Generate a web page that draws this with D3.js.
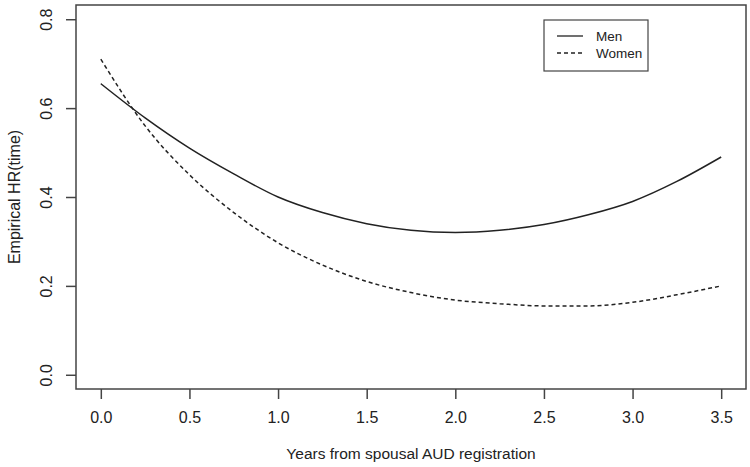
<!DOCTYPE html>
<html>
<head>
<meta charset="utf-8">
<script src="https://cdn.jsdelivr.net/npm/d3@7"></script>
<style>
  body { margin: 0; background: #fff; }
  svg { display: block; font-family: "Liberation Sans", Arial, sans-serif; }
</style>
</head>
<body>
<div id="chart"></div>
<script>
// data
var years = [0, 0.25, 0.5, 0.75, 1.0, 1.25, 1.5, 1.75, 2.0, 2.25, 2.5, 2.75, 3.0, 3.25, 3.5];
var men   = [0.655, 0.578, 0.51, 0.452, 0.40, 0.365, 0.34, 0.325, 0.32, 0.325, 0.338, 0.36, 0.39, 0.435, 0.49];
var women = [0.71, 0.56, 0.45, 0.365, 0.297, 0.247, 0.21, 0.185, 0.168, 0.16, 0.155, 0.155, 0.163, 0.18, 0.20];
var xTicks = [0, 0.5, 1, 1.5, 2, 2.5, 3, 3.5];
var yTicks = [0, 0.2, 0.4, 0.6, 0.8];
var seriesNames = ["Men", "Women"];

var width = 750, height = 467;
var ink = "#222";

var svg = d3.select("#chart")
    .append("svg")
    .attr("width", width)
    .attr("height", height);

// R style: 4% padding around the data range
var x = d3.scaleLinear()
    .domain([-0.14, 3.64])
    .range([76, 746]);
var y = d3.scaleLinear()
    .domain([-0.032, 0.832])
    .range([389, 5]);

// plot box
svg.append("rect")
    .attr("x", x.range()[0])
    .attr("y", y.range()[1])
    .attr("width", x.range()[1] - x.range()[0])
    .attr("height", y.range()[0] - y.range()[1])
    .attr("fill", "none")
    .attr("stroke", "#444")
    .attr("stroke-width", 1.5);

// x axis
var xAxis = svg.append("g")
    .attr("transform", "translate(0," + y.range()[0] + ")")
    .call(d3.axisBottom(x)
        .tickValues(xTicks)
        .tickSize(10)
        .tickFormat(d3.format(".1f")));
xAxis.select(".domain").remove();
xAxis.selectAll("line").attr("stroke", "#444").attr("stroke-width", 1.5);
xAxis.selectAll("text")
    .attr("fill", ink)
    .attr("font-size", 16)
    .attr("dy", null)
    .attr("y", 34);

// y axis, labels rotated like R (las = 0)
var yAxis = svg.append("g")
    .attr("transform", "translate(" + x.range()[0] + ",0)")
    .call(d3.axisLeft(y)
        .tickValues(yTicks)
        .tickSize(10)
        .tickFormat(d3.format(".1f")));
yAxis.select(".domain").remove();
yAxis.selectAll("line").attr("stroke", "#444").attr("stroke-width", 1.5);
yAxis.selectAll("text")
    .attr("fill", ink)
    .attr("font-size", 16)
    .attr("x", null)
    .attr("dy", null)
    .attr("text-anchor", "middle")
    .attr("transform", "translate(-24,0) rotate(-90)");

// axis titles
svg.append("text")
    .attr("x", (x.range()[0] + x.range()[1]) / 2)
    .attr("y", 459)
    .attr("text-anchor", "middle")
    .attr("font-size", 15.5)
    .attr("fill", ink)
    .text("Years from spousal AUD registration");

svg.append("text")
    .attr("transform", "translate(20," + (y.range()[0] + y.range()[1]) / 2 + ") rotate(-90)")
    .attr("text-anchor", "middle")
    .attr("font-size", 16)
    .attr("fill", ink)
    .text("Empirical HR(time)");

// curves
var line = d3.line()
    .x(function (d) { return x(d[0]); })
    .y(function (d) { return y(d[1]); })
    .curve(d3.curveMonotoneX);

svg.append("path")
    .datum(years.map(function (t, i) { return [t, men[i]]; }))
    .attr("d", line)
    .attr("fill", "none")
    .attr("stroke", ink)
    .attr("stroke-width", 1.5);

svg.append("path")
    .datum(years.map(function (t, i) { return [t, women[i]]; }))
    .attr("d", line)
    .attr("fill", "none")
    .attr("stroke", ink)
    .attr("stroke-width", 1.5)
    .attr("stroke-dasharray", "4,3");

// legend
var legend = svg.append("g").attr("transform", "translate(544,20)");
legend.append("rect")
    .attr("width", 104)
    .attr("height", 51)
    .attr("fill", "#fff")
    .attr("stroke", "#444")
    .attr("stroke-width", 1.2);

seriesNames.forEach(function (name, i) {
    var ly = 16 + i * 17;
    legend.append("line")
        .attr("x1", 13).attr("x2", 39)
        .attr("y1", ly).attr("y2", ly)
        .attr("stroke", ink)
        .attr("stroke-width", 1.3)
        .attr("stroke-dasharray", i == 1 ? "4,3" : null);
    legend.append("text")
        .attr("x", 52)
        .attr("y", ly + 5)
        .attr("font-size", 13.5)
        .attr("fill", ink)
        .text(name);
});
</script>
</body>
</html>
